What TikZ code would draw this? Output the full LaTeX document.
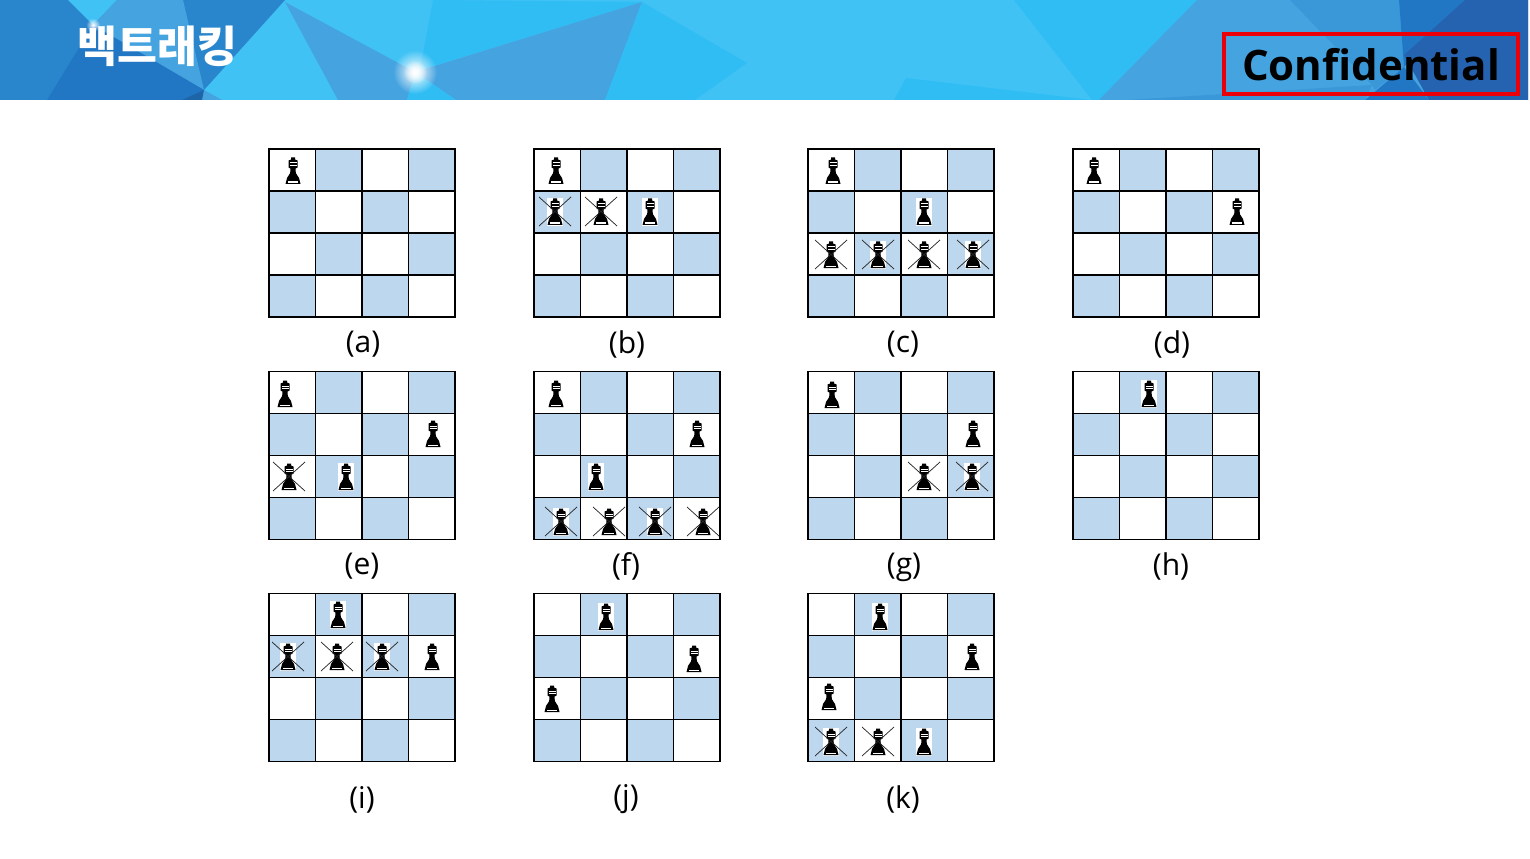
\documentclass[tikz,border=0pt]{standalone}
\usepackage{fontspec}
\usepackage{xcolor}
\usetikzlibrary{fadings}
\setmainfont{Open Sans}
\newfontfamily\krfont{Noto Sans CJK KR}
\definecolor{cellblue}{HTML}{BDD7EE}
\definecolor{skyA}{HTML}{40C2F5}
\definecolor{skyB}{HTML}{30BDF4}
\definecolor{skyC}{HTML}{45A3E0}
\definecolor{skyD}{HTML}{2A86CC}
\definecolor{skyE}{HTML}{2277C4}
\definecolor{skyF}{HTML}{3A98D8}
\definecolor{skyG}{HTML}{2563B0}
\tikzfading[name=glowfade, inner color=transparent!0, outer color=transparent!100]
\tikzset{
  gridline/.style={black, line width=1.2pt},
  crossline/.style={black!85, line width=0.55pt},
  sublabel/.style={font=\fontsize{22.5}{26}\selectfont, inner sep=0pt},
}
\newcommand{\board}[2]{
  \foreach \c/\r in {1/0,3/0,0/1,2/1,1/2,3/2,0/3,2/3}
    \fill [cellblue] (#1+\c*46.5,#2+\r*42) rectangle ++(46.5,42);
  \foreach \c in {1,2,3}
    \draw [gridline] (#1+\c*46.5,#2) -- ++(0,168);
  \foreach \r in {1,2,3}
    \draw [gridline] (#1,#2+\r*42) -- ++(186,0);
  \draw [gridline] (#1,#2) rectangle ++(186,168);
}
\newcommand{\queen}[2]{
  \begin{scope}[shift={(#1,#2)}]
    \fill [black] (-2,-13.5) -- (2,-13.5) -- (2,-11.5) -- (4.5,-10.5) -- (4.5,-3.5) -- (2.6,-2.5)
      -- (2.8,2) -- (6,7) -- (7.5,13) -- (-7.5,13) -- (-6,7) -- (-2.8,2) -- (-2.6,-2.5) -- (-4.5,-3.5) -- (-4.5,-10.5) -- (-2,-11.5) -- cycle;
    \fill [white] (-3.5,-8.5) rectangle (3.5,-7.5);
    \fill [white] (-3.5,-5.8) rectangle (3.5,-4.8);
    \fill [white] (-5,10.5) rectangle (5,12.2);
  \end{scope}
}
\newcommand{\queenbox}[2]{
  \fill [white] (#1-8,#2-14) rectangle (#1+8,#2+14);
  \queen{#1}{#2}
}
\newcommand{\crossout}[2]{
  \draw [crossline] (#1-16,#2-15) -- (#1+16,#2+14);
  \draw [crossline] (#1+16,#2-15) -- (#1-16,#2+14);
}
\begin{document}
\begin{tikzpicture}[x=0.75pt,y=-0.75pt]
\useasboundingbox (0,0) rectangle (1530,859);
% header band
\fill [skyA] (0,0) rectangle (1528,100);
\fill [skyD] (0,0) -- (285,0) -- (204,90) -- (195,100) -- (0,100) -- cycle;
\fill [skyA] (68,0) -- (93,25) -- (117,0) -- cycle;
\fill [skyC] (117,0) -- (183,0) -- (204,90) -- (93,25) -- cycle;
\fill [skyE] (93,25) -- (204,90) -- (195,100) -- (47,100) -- cycle;
\fill [skyC] (204,90) -- (222,100) -- (202,100) -- cycle;
\fill [skyE!85!black] (204,90) -- (202,100) -- (182,100) -- cycle;
\fill [skyC] (285,2) -- (415,72) -- (407,100) -- (338,100) -- cycle;
\fill [skyB] (433,0) -- (642,2) -- (420,70) -- cycle;
\fill [skyC] (642,2) -- (415,72) -- (456,100) -- (605,100) -- cycle;
\fill [skyB] (642,2) -- (747,63) -- (695,100) -- (605,100) -- cycle;
\fill [skyB] (407,100) -- (415,72) -- (456,100) -- cycle;
\fill [skyB] (1014,0) -- (1197,0) -- (1099,100) -- (1092,100) -- cycle;
\fill [skyB] (906,78) -- (1092,100) -- (894,100) -- cycle;
\fill [skyC] (1197,0) -- (1528,0) -- (1528,100) -- (1099,100) -- cycle;
\fill [skyF] (1290,0) -- (1399,0) -- (1404,67) -- (1375,90) -- (1372,85) -- cycle;
\fill [skyF] (1126,100) -- (1372,85) -- (1365,100) -- cycle;
\fill [skyE] (1399,0) -- (1465,0) -- (1404,67) -- cycle;
\fill [skyE] (1377,90) -- (1404,67) -- (1429,100) -- (1365,100) -- cycle;
\fill [skyG] (1465,0) -- (1528,0) -- (1528,100) -- (1429,100) -- (1404,55) -- cycle;
\fill [white, path fading=glowfade] (415,72) circle (22);
\fill [white, path fading=glowfade] (415,72) circle (12);
\fill [white, path fading=glowfade] (93,25) circle (7);
\node (title) at (157.5,46) [text=white, font=\krfont\bfseries\fontsize{32.5}{38}\selectfont, inner sep=0pt] {백트래킹};
\node (stamp) at (1371,64.5) [draw={rgb,255:red,235;green,0;blue,10}, line width=3pt, minimum width=220pt, minimum height=45pt, inner sep=0pt, font=\bfseries\fontsize{31.5}{38}\selectfont] {Confidential};
% boards
\board{269}{149}
\board{534}{149}
\board{808}{149}
\board{1073}{149}
\board{269}{371.5}
\board{534}{371.5}
\board{808}{371.5}
\board{1073}{371.5}
\board{269}{593.5}
\board{534}{593.5}
\board{808}{593.5}
% (a)
\queen{293}{171}
\node (laba) at (363,344.5) [sublabel] {(a)};
% (b)
\queen{556}{171}
\queenbox{555}{212} \crossout{555}{212}
\queen{601}{212} \crossout{601}{212}
\queenbox{650}{212}
\node (labb) at (627,344.5) [sublabel] {(b)};
% (c)
\queen{833}{171}
\queenbox{924}{212}
\queen{831}{255} \crossout{831}{255}
\queenbox{878}{255} \crossout{878}{255}
\queen{924}{255} \crossout{924}{255}
\queenbox{973}{255} \crossout{973}{255}
\node (labc) at (903,344.5) [sublabel] {(c)};
% (d)
\queen{1094}{171}
\queen{1237}{212}
\node (labd) at (1172,344.5) [sublabel] {(d)};
% (e)
\queen{285}{394}
\queen{433}{434}
\queen{289}{477} \crossout{289}{477}
\queenbox{346}{477}
\node (labe) at (362,566.5) [sublabel] {(e)};
% (f)
\queen{556}{394}
\queen{697}{434}
\queenbox{596}{477}
\queenbox{561}{522} \crossout{561}{522}
\queen{609}{522} \crossout{609}{522}
\queenbox{655}{522} \crossout{655}{522}
\queen{703}{522} \crossout{703}{522}
\node (labf) at (626,566.5) [sublabel] {(f)};
% (g)
\queen{832}{395}
\queen{973}{434}
\queen{924}{477} \crossout{924}{477}
\queenbox{972}{477} \crossout{972}{477}
\node (labg) at (904,567.5) [sublabel] {(g)};
% (h)
\queenbox{1149}{394}
\node (labh) at (1171,566.5) [sublabel] {(h)};
% (i)
\queenbox{338}{615}
\queenbox{288}{657} \crossout{288}{657}
\queen{337}{657} \crossout{337}{657}
\queenbox{382}{657} \crossout{382}{657}
\queen{432}{657}
\node (labi) at (362,799.5) [sublabel] {(i)};
% (j)
\queenbox{606}{617}
\queen{694}{659}
\queen{552}{699}
\node (labj) at (626,799.5) [sublabel] {(j)};
% (k)
\queenbox{880}{617}
\queen{972}{657}
\queen{829}{697}
\queenbox{831}{742} \crossout{831}{742}
\queen{878}{742} \crossout{878}{742}
\queenbox{924}{742}
\node (labk) at (903,799.5) [sublabel] {(k)};
\end{tikzpicture}
\end{document}
